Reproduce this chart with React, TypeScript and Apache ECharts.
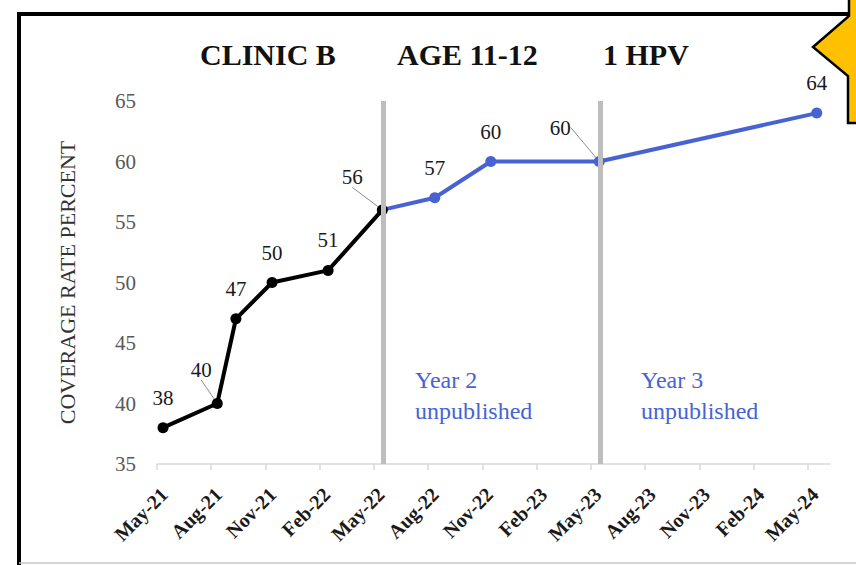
import React, { useEffect, useRef } from "react";
import * as echarts from "echarts";

const tickLabels = ["May-21", "Aug-21", "Nov-21", "Feb-22", "May-22", "Aug-22", "Nov-22", "Feb-23", "May-23", "Aug-23", "Nov-23", "Feb-24", "May-24"];
const year1Dates = ["2021-05-11", "2021-08-11", "2021-09-12", "2021-11-12", "2022-02-15", "2022-05-15"];
const year1Values = [38, 40, 47, 50, 51, 56];
const laterDates = ["2022-05-15", "2022-08-12", "2022-11-15", "2023-05-15", "2024-05-16"];
const laterValues = [56, 57, 60, 60, 64];
const yearDividerDates = ["2022-05-17", "2023-05-16"];
const axisStartDate = "2021-05-01";
const axisEndDate = "2024-06-08";
const titleParts = ["CLINIC B", "AGE 11-12", "1 HPV"];
const yearNotes = ["Year 2\nunpublished", "Year 3\nunpublished"];

const SERIF = "'Liberation Serif', 'Times New Roman', serif";
const BLUE = "#4763d3";

function monthOffset(d: string): number {
  const [y, m, day] = d.split("-").map(Number);
  const [y0, m0] = axisStartDate.split("-").map(Number);
  return (y - y0) * 12 + (m - m0) + (day - 1) / 30;
}

// label nudges (px) for labels that Excel had dragged away from the point
const moved: Record<string, [number, number]> = {
  "1-1": [-16, -4],
  "1-5": [-30, -3],
  "0-3": [-39, -4],
};

export default function App() {
  const ref = useRef<HTMLDivElement>(null);
  useEffect(() => {
    if (!ref.current) return;
    const chart = echarts.init(ref.current, null, { renderer: "svg" });
    const labelBase = {
      show: true,
      position: "top",
      distance: 14,
      fontFamily: SERIF,
      fontSize: 21,
      color: "#1a1a1a",
    };
    const year1Data = year1Dates.map((d, i) => {
      const key = "1-" + i;
      return {
        value: [monthOffset(d), year1Values[i]],
        labelLine: { show: !!moved[key], lineStyle: { color: "#8c8c8c", width: 1 } },
      };
    });
    const laterData = laterDates.map((d, i) => {
      const key = "0-" + i;
      return {
        value: [monthOffset(d), laterValues[i]],
        symbol: i === 0 ? "none" : "circle",
        label: { show: i !== 0 },
        labelLine: { show: !!moved[key], lineStyle: { color: "#8c8c8c", width: 1 } },
      };
    });
    const xTicks = tickLabels.map((_, i) => i * 3);
    chart.setOption({
      animation: false,
      title: titleParts.map((t, i) => ({
        text: t,
        left: [195, 392, 598][i],
        top: 34,
        textStyle: { fontFamily: SERIF, fontSize: 30, fontWeight: "bold", color: "#111" },
      })),
      grid: { left: 157, right: 26, top: 101, bottom: 101, containLabel: false },
      xAxis: {
        type: "value",
        min: 0,
        max: monthOffset(axisEndDate),
        interval: 3,
        splitLine: { show: false },
        axisLine: { show: true, lineStyle: { color: "#d9d9d9", width: 1.5 } },
        axisTick: { show: true, length: 6, customValues: xTicks, lineStyle: { color: "#d9d9d9", width: 1.5 } },
        axisLabel: {
          customValues: xTicks,
          rotate: 45,
          margin: 20,
          verticalAlign: "top",
          fontFamily: SERIF,
          fontSize: 20,
          fontWeight: "bold",
          color: "#1a1a1a",
          formatter: (v: number) => tickLabels[Math.round(v / 3)] ?? "",
        },
      },
      yAxis: {
        type: "value",
        min: 35,
        max: 65,
        interval: 5,
        name: "COVERAGE RATE PERCENT",
        nameLocation: "middle",
        nameRotate: 90,
        nameGap: 79,
        nameTextStyle: { fontFamily: SERIF, fontSize: 22, color: "#333" },
        splitLine: { show: false },
        axisLine: { show: false },
        axisTick: { show: false },
        axisLabel: { margin: 21, fontFamily: SERIF, fontSize: 21, color: "#595959" },
      },
      series: [
        {
          type: "line",
          data: laterData,
          symbol: "circle",
          symbolSize: 11,
          lineStyle: { color: BLUE, width: 4 },
          itemStyle: { color: BLUE },
          label: labelBase,
          labelLayout: (p: any) => {
            const m = moved["0-" + p.dataIndex];
            return m ? { dx: m[0], dy: m[1] } : {};
          },
          markLine: {
            silent: true,
            symbol: "none",
            label: { show: false },
            lineStyle: { color: "#bdbdbd", width: 5, type: "solid" },
            data: yearDividerDates.map((d) => ({ xAxis: monthOffset(d) })),
          },
          z: 2,
        },
        {
          type: "line",
          data: year1Data,
          symbol: "circle",
          symbolSize: 11,
          lineStyle: { color: "#000", width: 4 },
          itemStyle: { color: "#000" },
          label: labelBase,
          labelLayout: (p: any) => {
            const m = moved["1-" + p.dataIndex];
            return m ? { dx: m[0], dy: m[1] } : {};
          },
          z: 3,
        },
      ],
      graphic: [
        {
          type: "polyline",
          shape: { points: [[19, 566], [19, 14], [849, 14]] },
          style: { stroke: "#000", lineWidth: 4, fill: "none" },
          z: 10,
        },
        {
          type: "line",
          shape: { x1: 19, y1: 563, x2: 856, y2: 563 },
          style: { stroke: "#c4c4c4", lineWidth: 1.5 },
          z: 10,
        },
        {
          type: "polygon",
          shape: { points: [[849, -3], [849, 16], [813, 47], [848, 76], [848, 123], [860, 123], [860, -3]] },
          style: { fill: "#FFC000", stroke: "#000", lineWidth: 2.5 },
          z: 11,
        },
        {
          type: "text",
          left: 415,
          top: 364,
          style: { text: yearNotes[0], fill: BLUE, font: "24px " + SERIF, lineHeight: 31 },
        },
        {
          type: "text",
          left: 641,
          top: 364,
          style: { text: yearNotes[1], fill: BLUE, font: "24px " + SERIF, lineHeight: 31 },
        },
      ],
    });
    return () => chart.dispose();
  }, []);
  return <div ref={ref} style={{ width: 856, height: 565, position: "absolute", left: 0, top: 0 }} />;
}
